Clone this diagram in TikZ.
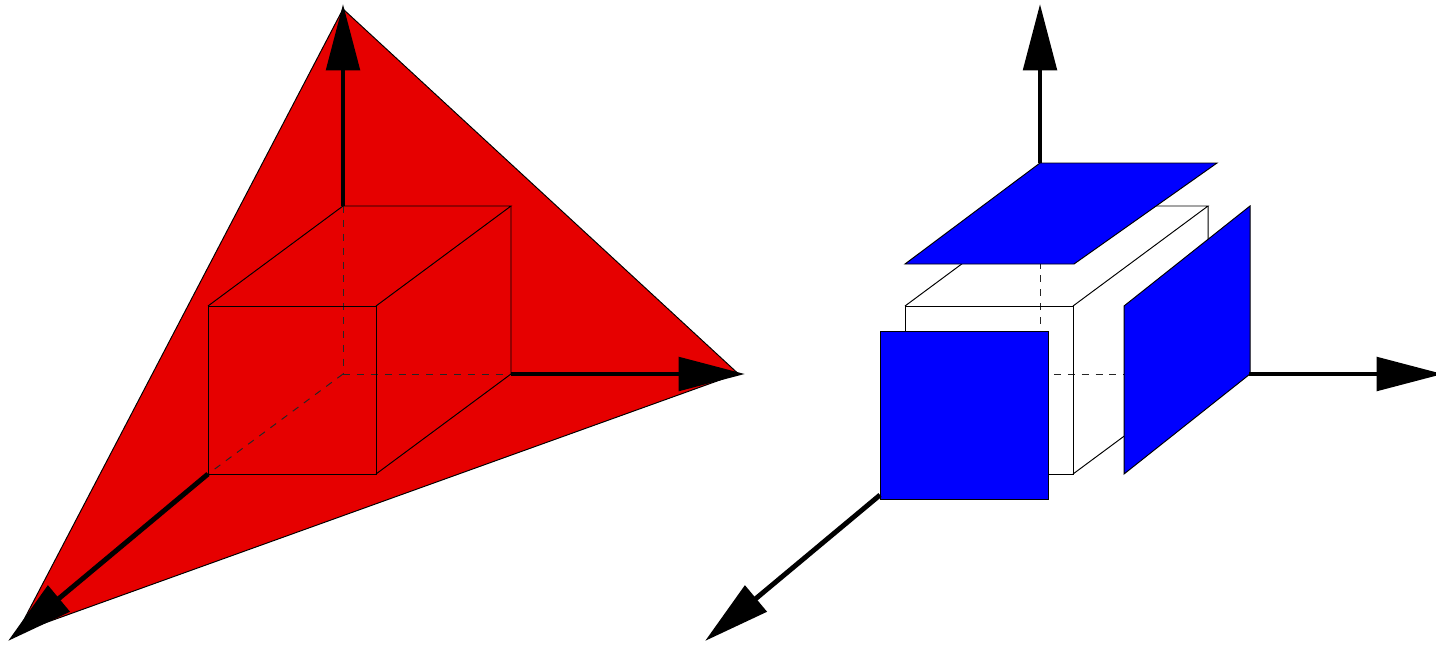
\documentclass[tikz,border=0pt]{standalone}
\usepackage{tikz}
\usepackage{xcolor}
\usetikzlibrary{arrows.meta}
\definecolor{planered}{HTML}{E60000}
\definecolor{planeblue}{HTML}{0000FF}

\begin{document}
\begin{tikzpicture}[
    x=0.02cm, y=-0.02cm,
    axis/.style={-{Triangle[length=37.8pt, width=18.9pt]}, line width=2.8pt},
    edge/.style={line width=0.55pt, line join=miter},
    hidden/.style={line width=0.55pt, black!85, dash pattern=on 4pt off 3.9pt},
    redface/.style={draw=black, line width=0.55pt, fill=planered},
    blueface/.style={draw=black, line width=0.55pt, fill=planeblue}
]
\useasboundingbox (0,0) rectangle (1436,646);

% corner plane
\coordinate (ztop) at (343,9);
\coordinate (xtop) at (738,373.5);
\coordinate (ytop) at (17,633);
\draw[redface] (ztop) -- (xtop) -- (ytop) -- cycle;

% the two cubes
\foreach \ox in {0,697} {
  \begin{scope}[xshift=\ox*0.02cm]
    \draw[hidden] (343,206) -- (343,374);
    \draw[hidden] (343,374) -- (511,374);
    \draw[hidden] (343,374) -- (208,474);
    \draw[edge] (208,306) rectangle (376,474);
    \draw[edge] (208,306) -- (343,206) -- (511,206) -- (376,306);
    \draw[edge] (511,206) -- (511,374) -- (376,474);
  \end{scope}
}

% left axes
\coordinate (lz) at (343,206);
\coordinate (lx) at (511,374);
\coordinate (ly) at (208,474);
\coordinate (lztip) at (343,4);
\coordinate (lxtip) at (745,374);
\coordinate (lytip) at (8,641);
\draw[axis] (lz) -- (lztip);
\draw[axis] (lx) -- (lxtip);
\draw[axis] (ly) -- (lytip);

% blue faces
\draw[blueface] (1040,163) -- (1217,163) -- (1074,264) -- (905,264) -- cycle;
\draw[blueface] (1124,306) -- (1250,206) -- (1250,374) -- (1124,474) -- cycle;
\draw[blueface] (880,331) rectangle (1048,499);

% right axes
\coordinate (rz) at (1040,163);
\coordinate (rx) at (1249,374);
\coordinate (ry) at (880,495);
\coordinate (rztip) at (1040,4);
\coordinate (rxtip) at (1443,374);
\coordinate (rytip) at (705,641);
\draw[axis] (rz) -- (rztip);
\draw[axis] (rx) -- (rxtip);
\draw[axis] (ry) -- (rytip);
\end{tikzpicture}
\end{document}
